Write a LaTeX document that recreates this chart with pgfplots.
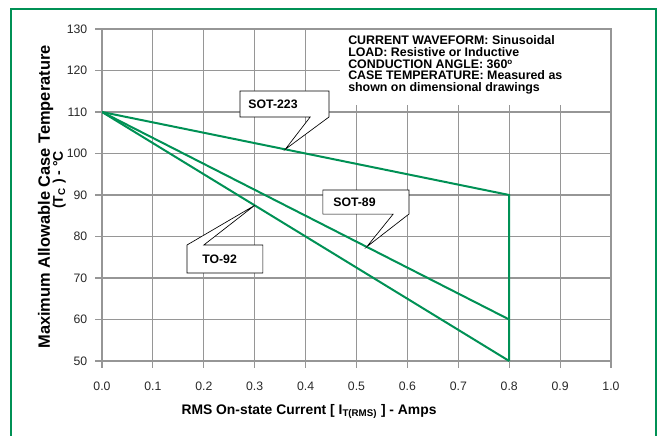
\documentclass[border=0pt]{standalone}
\usepackage{pgfplots}
\pgfplotsset{compat=1.18}
\usepackage{fontspec}
\setmainfont{Liberation Sans}
\definecolor{lnGreen}{RGB}{0,145,85}
\definecolor{gridGray}{RGB}{150,150,150}
\definecolor{tickText}{RGB}{40,40,40}
\begin{document}
\begin{tikzpicture}
\useasboundingbox (-76.5pt,-55.5pt) rectangle (417.75pt,270.75pt);
\begin{axis}[
    at={(0,0)}, anchor=south west,
    scale only axis,
    width=381.75pt,
    height=249pt,
    xmin=0, xmax=1,
    ymin=50, ymax=130,
    xtick={0,0.1,0.2,0.3,0.4,0.5,0.6,0.7,0.8,0.9,1.0},
    ytick={50,60,70,80,90,100,110,120,130},
    grid=major,
    major grid style={gridGray, line width=0.8pt},
    axis line style={gridGray, line width=0.8pt},
    tick style={gridGray, line width=0.8pt},
    tick align=outside,
    major tick length=5pt,
    tick pos=left,
    /pgf/number format/assume math mode=true,
    ticklabel style={font=\fontsize{9.2}{10}\selectfont, text=tickText},
    x tick label style={/pgf/number format/fixed,
        /pgf/number format/fixed zerofill,
        /pgf/number format/precision=1, yshift=-7pt},
    y tick label style={xshift=-2.5pt},
]

% notes panel covers the grid
\fill[white] (axis cs:0.468,111.7) rectangle (axis cs:0.998,129.85);

\addplot[lnGreen, line width=1.5pt] coordinates {(0,110) (0.8,90) (0.8,50)};
\addplot[lnGreen, line width=1.5pt] coordinates {(0,110) (0.8,60)};
\addplot[lnGreen, line width=1.5pt] coordinates {(0,110) (0.8,50)};

% callouts
\filldraw[fill=white, draw=black, line width=0.5pt]
  (axis cs:0.271,115.06) -- (axis cs:0.446,115.06) -- (axis cs:0.446,108.8)
  -- (axis cs:0.36,101) -- (axis cs:0.409,108.8) -- (axis cs:0.271,108.8) -- cycle;
\node[font=\fontsize{9.2}{10}\bfseries\selectfont] at (axis cs:0.336,111.9) {SOT-223};

\filldraw[fill=white, draw=black, line width=0.5pt]
  (axis cs:0.434,91.2) -- (axis cs:0.603,91.2) -- (axis cs:0.603,85.4)
  -- (axis cs:0.52,77.5) -- (axis cs:0.572,85.4) -- (axis cs:0.434,85.4) -- cycle;
\node[font=\fontsize{9.2}{10}\bfseries\selectfont] at (axis cs:0.496,88.3) {SOT-89};

\filldraw[fill=white, draw=black, line width=0.5pt]
  (axis cs:0.167,77.95) -- (axis cs:0.3,87.5) -- (axis cs:0.2,77.95)
  -- (axis cs:0.316,77.95) -- (axis cs:0.316,71.2) -- (axis cs:0.167,71.2) -- cycle;
\node[font=\fontsize{9.2}{10}\bfseries\selectfont] at (axis cs:0.231,74.6) {TO-92};
\end{axis}

% notes
\foreach \t [count=\i] in {CURRENT WAVEFORM: Sinusoidal,
    LOAD: Resistive or Inductive,
    CONDUCTION ANGLE: 360\raisebox{0.28em}{\fontsize{6}{6}\selectfont o},
    CASE TEMPERATURE: Measured as,
    shown on dimensional drawings}
  \node[anchor=base west, inner sep=0pt, font=\fontsize{9.3}{10}\bfseries\selectfont]
    at (184.5pt,{245.95pt-8.75pt*\i}) {\t};

% axis titles
\node[anchor=base, inner sep=0pt, font=\fontsize{10.4}{12}\bfseries\selectfont]
  at (155.25pt,-39.75pt) {RMS On-state Current [ I\textsubscript{T(RMS)} ] - Amps};
\node[anchor=base, rotate=90, inner sep=0pt, font=\fontsize{12.3}{13}\bfseries\selectfont]
  at (-39pt,123pt) {Maximum Allowable Case Temperature};
\node[anchor=base, rotate=90, inner sep=0pt, font=\fontsize{10.5}{12}\bfseries\selectfont]
  at (-29.25pt,135.75pt) {(T\textsubscript{C} ) - \textdegree C};

% green frame
\draw[lnGreen, line width=1.3pt] (-68.25pt,-56pt) -- (-68.25pt,264pt)
  -- (415.5pt,264pt) -- (415.5pt,-56pt);
\end{tikzpicture}
\end{document}
